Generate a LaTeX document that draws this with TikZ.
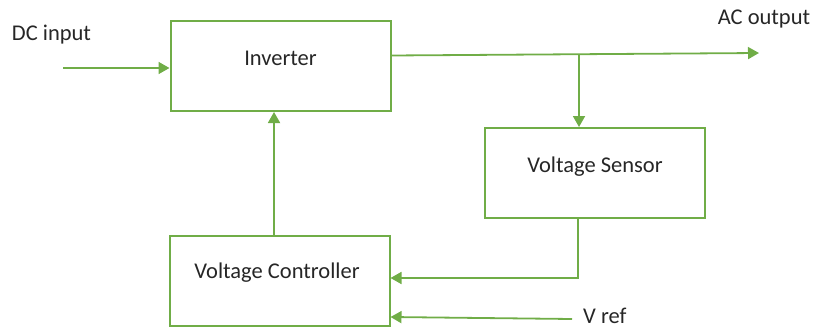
\documentclass[tikz,border=0pt]{standalone}
\usepackage{fontspec}
\setmainfont{Carlito}
\usetikzlibrary{arrows.meta}
\definecolor{lg}{HTML}{70AD47}
\begin{document}
\begin{tikzpicture}[x=1pt,y=-1pt,
  blk/.style={draw=lg,line width=2pt,minimum width=220pt,minimum height=90pt,inner sep=0pt},
  lbl/.style={font=\fontsize{22.5}{26}\selectfont,text=black!85,inner sep=0pt},
  conn/.style={draw=lg,line width=1.8pt},
  arr/.style={conn,-{Triangle[length=11pt,width=12pt]}}]
\useasboundingbox (0,0) rectangle (814,329);
\node[blk] (inv) at (280.5,66) {};
\node[lbl] (invt) at (280.5,58) {Inverter};
\node[blk] (sen) at (595,173) {};
\node[lbl] (sent) at (595,167) {Voltage Sensor};
\node[blk] (ctl) at (279.5,280.5) {};
\node[lbl] (ctlt) at (277,273) {Voltage Controller};
\node[lbl] (dc) at (51.5,35) {DC input};
\node[lbl] (ac) at (764,19) {AC output};
\node[lbl,anchor=west] (vref) at (583,315.5) {V ref};
\coordinate (dcs) at (63,68);
\coordinate (ace) at (759,53);
\coordinate (br) at (579,54.5);
\coordinate (vrs) at (572,319);
\draw[arr] (dcs) -- (dcs -| inv.west);
\draw[arr] (inv.east |- 0,55.5) -- (ace);
\draw[arr] (br) -- (br |- sen.north);
\draw[arr] (578,218) -- (578,278) -- (ctl.east |- 0,278);
\draw[arr] (vrs) -- (ctl.east |- 0,317);
\draw[arr] (ctl.north -| 274,0) -- (inv.south -| 274,0);
\end{tikzpicture}
\end{document}
